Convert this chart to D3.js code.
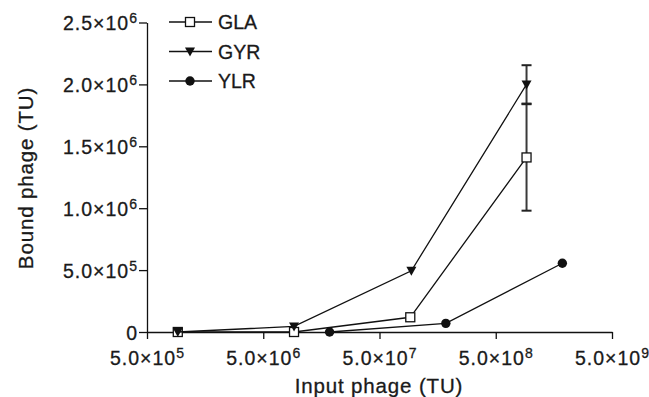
<!DOCTYPE html>
<html>
<head>
<meta charset="utf-8">
<script src="https://cdn.jsdelivr.net/npm/d3@7"></script>
<style>
  html, body { margin: 0; padding: 0; background: #fff; }
  svg { display: block; }
  text { font-family: "Liberation Sans", Arial, sans-serif; fill: #1a1a1a; stroke: #1a1a1a; stroke-width: 0.3px; }
</style>
</head>
<body>
<svg id="chart" width="649" height="397"></svg>
<script>
/* ============================================================
   DATA
============================================================ */
const seriesNames = ["GLA", "GYR", "YLR"];

const glaInput = [9.2e5, 9.2e6, 9.2e7, 9.2e8];
const glaBound = [0, 0, 1.19e5, 1.41e6];
const glaErr   = [0, 0, 0, 4.3e5];

const gyrInput = [9.2e5, 9.2e6, 9.4e7, 9.2e8];
const gyrBound = [0, 4.5e4, 4.95e5, 2.0e6];
const gyrErr   = [0, 0, 0, 1.55e5];

const ylrInput = [1.86e7, 1.86e8, 1.87e9];
const ylrBound = [0, 7.0e4, 5.55e5];

const xTicks = [5e5, 5e6, 5e7, 5e8, 5e9];
const yTicks = [0, 5e5, 1e6, 1.5e6, 2e6, 2.5e6];

/* ============================================================
   SETUP
============================================================ */
const svg = d3.select("#chart");
const plotL = 147, plotR = 612, plotT = 22.5, plotB = 332;
const tickFont = 19.5, tickSp = 1.0;
const titleFont = 20.5, titleSp = 0.85;

const x = d3.scaleLog().domain([5e5, 5e9]).range([plotL, plotR]);
const y = d3.scaleLinear().domain([0, 2.5e6]).range([plotB, plotT]);

// "5.0x10^n" label with superscript
function sciLabel(sel, v) {
  sel.text(null);
  if (v === 0) { sel.append("tspan").text("0"); return; }
  const exp = Math.floor(Math.log10(v) + 1e-9);
  const mant = (v / Math.pow(10, exp)).toFixed(1);
  sel.append("tspan").text(mant + "\u00d710");
  sel.append("tspan").attr("font-size", 14).attr("dy", -7).text(exp);
}

/* ============================================================
   AXES
============================================================ */
const xAxis = svg.append("g")
  .attr("transform", `translate(0,${plotB})`)
  .call(d3.axisBottom(x).tickValues(xTicks).tickSize(7).tickSizeOuter(0).tickFormat(""));

const yAxis = svg.append("g")
  .attr("transform", `translate(${plotL},0)`)
  .call(d3.axisLeft(y).tickValues(yTicks).tickSize(8).tickSizeOuter(0).tickFormat(""));

[xAxis, yAxis].forEach(g => {
  g.select(".domain").attr("stroke", "#111").attr("stroke-width", 1.3);
  g.selectAll(".tick line").attr("stroke", "#111").attr("stroke-width", 1.3);
  g.selectAll(".tick text")
    .attr("font-size", tickFont)
    .attr("letter-spacing", tickSp)
    .attr("fill", "#1a1a1a")
    .each(function(d) { sciLabel(d3.select(this), d); });
});

xAxis.selectAll(".tick text").attr("y", 33).attr("dy", null);
yAxis.selectAll(".tick text").attr("x", -9).attr("dy", 7);

// axis titles
svg.append("text")
  .attr("x", 379).attr("y", 393)
  .attr("text-anchor", "middle")
  .attr("font-size", titleFont).attr("letter-spacing", titleSp)
  .text("Input phage (TU)");

svg.append("text")
  .attr("transform", "translate(33,178) rotate(-90)")
  .attr("text-anchor", "middle")
  .attr("font-size", titleFont).attr("letter-spacing", titleSp)
  .text("Bound phage (TU)");

/* ============================================================
   SERIES
============================================================ */
const series = [
  { name: "GLA", xs: glaInput, ys: glaBound, err: glaErr, shape: "square" },
  { name: "GYR", xs: gyrInput, ys: gyrBound, err: gyrErr, shape: "triangle" },
  { name: "YLR", xs: ylrInput, ys: ylrBound, err: null, shape: "circle" }
];

const line = d3.line().x(d => x(d[0])).y(d => y(d[1]));

function drawMarker(g, shape, cx, cy) {
  if (shape === "square") {
    g.append("rect").attr("x", cx - 4.5).attr("y", cy - 4.5)
      .attr("width", 9).attr("height", 9)
      .attr("fill", "#fff").attr("stroke", "#111").attr("stroke-width", 1.3);
  } else if (shape === "triangle") {
    g.append("path")
      .attr("d", `M${cx - 5},${cy - 4} L${cx + 5},${cy - 4} L${cx},${cy + 5} Z`)
      .attr("fill", "#111");
  } else {
    g.append("circle").attr("cx", cx).attr("cy", cy).attr("r", 4.7).attr("fill", "#111");
  }
}

// error bars first (drawn under markers)
const errG = svg.append("g");
series.forEach(s => {
  if (!s.err) return;
  s.xs.forEach((xv, i) => {
    const e = s.err[i];
    if (!e) return;
    const cx = x(xv), y1 = y(s.ys[i] + e), y2 = y(s.ys[i] - e);
    errG.append("line").attr("x1", cx).attr("x2", cx).attr("y1", y1).attr("y2", y2)
      .attr("stroke", "#3a3a3a").attr("stroke-width", 2);
    [y1, y2].forEach(yy => errG.append("line")
      .attr("x1", cx - 5).attr("x2", cx + 5).attr("y1", yy).attr("y2", yy)
      .attr("stroke", "#222").attr("stroke-width", 2));
  });
});

series.forEach(s => {
  const pts = s.xs.map((xv, i) => [xv, s.ys[i]]);
  svg.append("path").datum(pts)
    .attr("d", line).attr("fill", "none")
    .attr("stroke", "#111").attr("stroke-width", 1.3);
  const mg = svg.append("g");
  pts.forEach(p => drawMarker(mg, s.shape, x(p[0]), y(p[1])));
});

/* ============================================================
   LEGEND
============================================================ */
const legend = svg.append("g");
series.forEach((s, i) => {
  const ly = 22 + i * 29.5;
  legend.append("line").attr("x1", 169).attr("x2", 212).attr("y1", ly).attr("y2", ly)
    .attr("stroke", "#111").attr("stroke-width", 1.3);
  drawMarker(legend, s.shape, 190, ly);
  legend.append("text").attr("x", 218).attr("y", ly + 7)
    .attr("font-size", tickFont)
    .text(s.name);
});
</script>
</body>
</html>
